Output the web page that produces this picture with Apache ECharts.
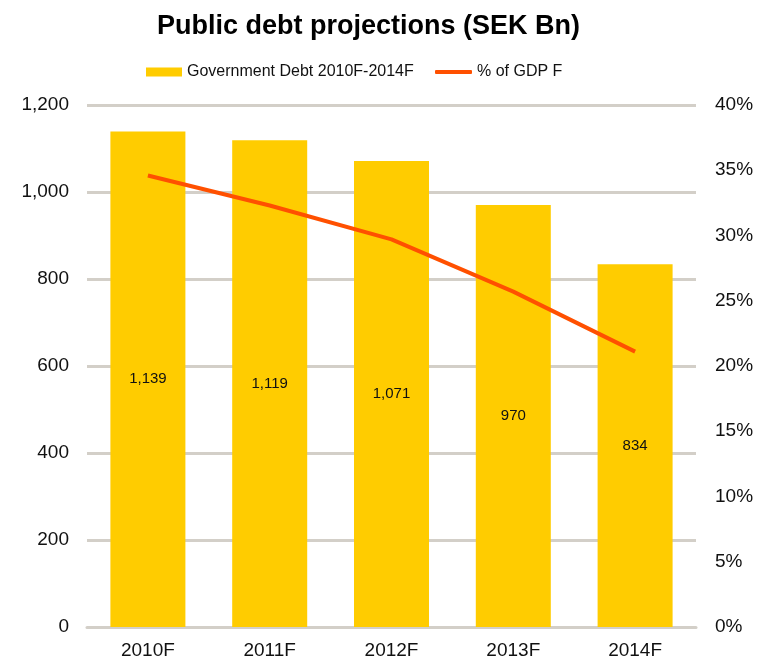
<!DOCTYPE html>
<html>
<head>
<meta charset="utf-8">
<script src="https://cdn.jsdelivr.net/npm/echarts@6/dist/echarts.min.js"></script>
<style>
  html, body { margin: 0; padding: 0; background: #fff; }
  #main { width: 762px; height: 670px; }
</style>
</head>
<body>
<div id="main"></div>
<script>
const years = ['2010F', '2011F', '2012F', '2013F', '2014F']
const debt = [1139, 1119, 1071, 970, 834]
const gdpPct = [34.6, 32.3, 29.7, 25.7, 21.1]
const leftTicks = [0, 200, 400, 600, 800, 1000, 1200]
const rightTicks = [0, 5, 10, 15, 20, 25, 30, 35, 40]

const chart = echarts.init(document.getElementById('main'))
const labelFont = 'Liberation Sans, Arial, sans-serif'

const option = {
  animation: false,
  title: {
    text: 'Public debt projections (SEK Bn)',
    left: 152,
    top: 8,
    textStyle: { fontFamily: labelFont, fontSize: 27, fontWeight: 'bold', color: '#000' }
  },
  legend: [
    {
      top: 59,
      left: 141,
      itemWidth: 36,
      itemHeight: 9,
      itemGap: 4,
      textStyle: { fontFamily: labelFont, fontSize: 16, color: '#111' },
      data: [{ name: 'Government Debt 2010F-2014F', icon: 'rect' }]
    },
    {
      top: 59,
      left: 430,
      itemWidth: 37,
      itemHeight: 4,
      textStyle: { fontFamily: labelFont, fontSize: 16, color: '#111' },
      data: [{ name: '% of GDP F', icon: 'roundRect' }]
    }
  ],
  grid: { left: 87, right: 66, top: 105, bottom: 43 },
  xAxis: {
    type: 'category',
    data: years,
    axisTick: { show: false },
    axisLine: { show: true, lineStyle: { color: '#d3cfc8', width: 3 } },
    axisLabel: { fontFamily: labelFont, fontSize: 19, color: '#111', margin: 14 }
  },
  yAxis: [
    {
      type: 'value',
      min: leftTicks[0],
      max: leftTicks[leftTicks.length - 1],
      interval: 200,
      axisLine: { show: false },
      axisTick: { show: false },
      splitLine: { lineStyle: { color: '#d3cfc8', width: 3 } },
      axisLabel: {
        fontFamily: labelFont, fontSize: 19, color: '#111', margin: 18,
        formatter: v => v.toLocaleString('en-US')
      }
    },
    {
      type: 'value',
      min: rightTicks[0],
      max: rightTicks[rightTicks.length - 1],
      interval: 5,
      axisLine: { show: false },
      axisTick: { show: false },
      splitLine: { show: false },
      axisLabel: {
        fontFamily: labelFont, fontSize: 19, color: '#111', margin: 19,
        formatter: '{value}%'
      }
    }
  ],
  series: [
    {
      name: 'Government Debt 2010F-2014F',
      type: 'bar',
      data: debt,
      barWidth: 75,
      itemStyle: { color: '#ffcc00' },
      label: {
        show: true,
        position: 'inside',
        fontFamily: labelFont,
        fontSize: 15,
        color: '#111',
        formatter: p => p.value.toLocaleString('en-US')
      }
    },
    {
      name: '% of GDP F',
      type: 'line',
      yAxisIndex: 1,
      data: gdpPct,
      symbol: 'none',
      lineStyle: { color: '#ff5000', width: 4 },
      itemStyle: { color: '#ff5000' }
    }
  ]
}

chart.setOption(option)
</script>
</body>
</html>
